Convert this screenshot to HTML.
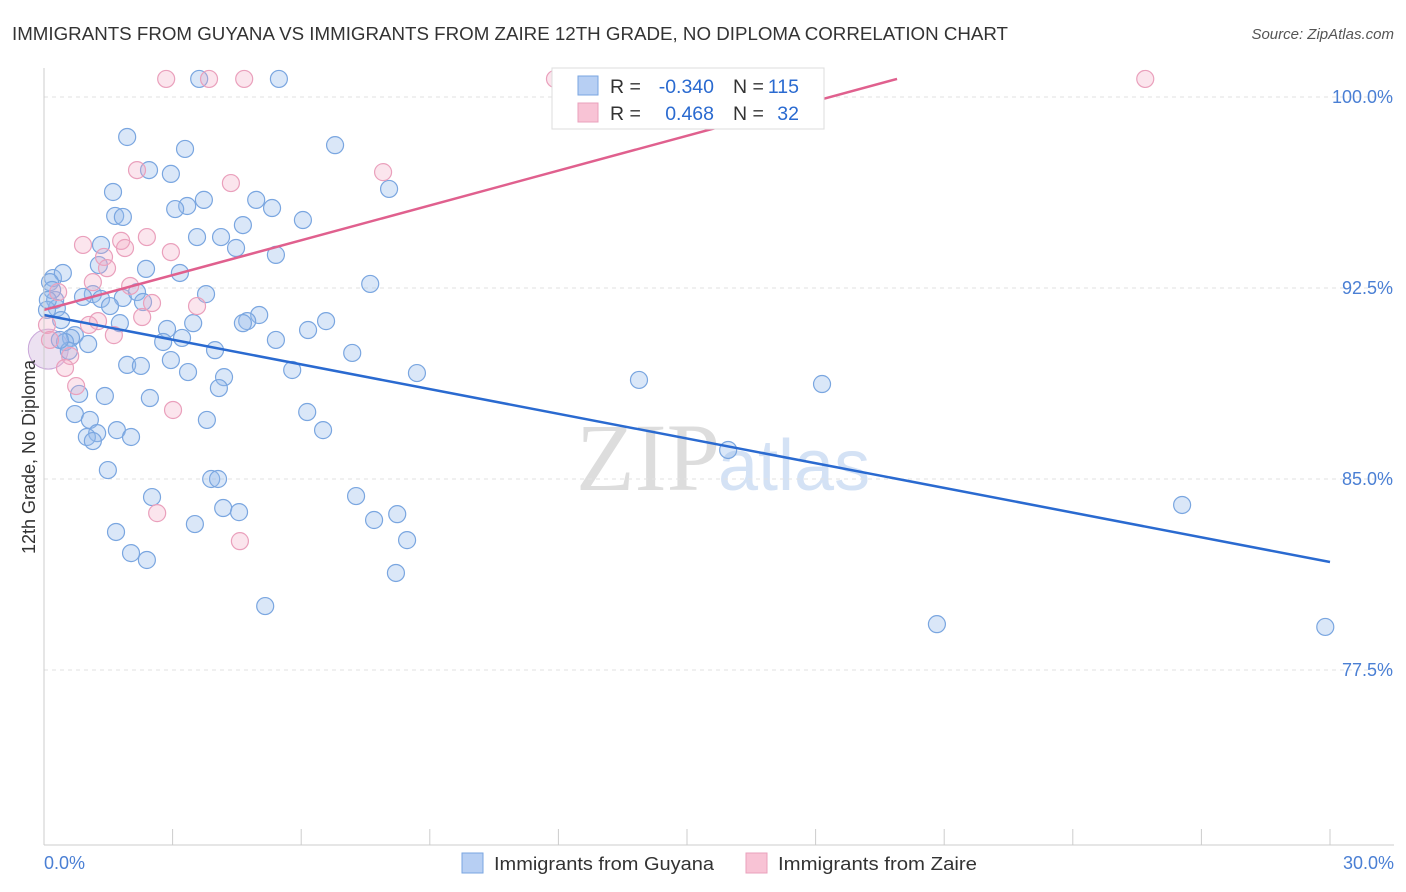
<!DOCTYPE html>
<html><head><meta charset="utf-8"><style>
body{margin:0;background:#fff;font-family:"Liberation Sans",sans-serif;}
svg{display:block}
</style></head><body>
<svg id="chart" width="1406" height="892">
<text x="12" y="40" font-size="18" fill="#333" textLength="996" lengthAdjust="spacingAndGlyphs">IMMIGRANTS FROM GUYANA VS IMMIGRANTS FROM ZAIRE 12TH GRADE, NO DIPLOMA CORRELATION CHART</text>
<text x="1394" y="39" font-size="15" fill="#555" text-anchor="end" font-style="italic">Source: ZipAtlas.com</text>
<text x="720" y="490" font-size="96" fill="#ddd" text-anchor="end" font-family="Liberation Serif">ZIP</text>
<text x="718" y="490" font-size="72" fill="#d4e2f5">atlas</text>
<g id="grid"></g>
<g id="pts"></g>
<g id="lines"></g>
<line x1="44" y1="68" x2="44" y2="845" stroke="#ccc"/>
<line x1="44" y1="845" x2="1394" y2="845" stroke="#ccc"/>
<text transform="translate(35,457) rotate(-90)" font-size="18" fill="#333" text-anchor="middle">12th Grade, No Diploma</text>
<text x="44" y="869" font-size="18" fill="#4a7fd4">0.0%</text>
<text x="1394" y="869" font-size="18" fill="#4a7fd4" text-anchor="end">30.0%</text>
<g>
<rect x="552" y="68" width="272" height="61" fill="#fff" stroke="#ddd"/>
<rect x="578" y="76" width="20" height="19" fill="#b7cff3" stroke="#7aa6e0"/>
<rect x="578" y="103" width="20" height="19" fill="#f8c3d5" stroke="#eaa0bc"/>
<g font-size="19.5">
<text x="610" y="93" fill="#333">R =</text>
<text x="714" y="93" fill="#2a6ad0" text-anchor="end">-0.340</text>
<text x="733" y="93" fill="#333">N =</text>
<text x="799" y="93" fill="#2a6ad0" text-anchor="end">115</text>
<text x="610" y="120" fill="#333">R =</text>
<text x="714" y="120" fill="#2a6ad0" text-anchor="end">0.468</text>
<text x="733" y="120" fill="#333">N =</text>
<text x="799" y="120" fill="#2a6ad0" text-anchor="end">32</text>
</g>
</g>
<g>
<rect x="462" y="853" width="21" height="20" fill="#b7cff3" stroke="#7aa6e0"/>
<text x="494" y="870" font-size="18" fill="#333" textLength="220" lengthAdjust="spacingAndGlyphs">Immigrants from Guyana</text>
<rect x="746" y="853" width="21" height="20" fill="#f8c3d5" stroke="#eaa0bc"/>
<text x="778" y="870" font-size="18" fill="#333" textLength="199" lengthAdjust="spacingAndGlyphs">Immigrants from Zaire</text>
</g>
</svg>
<script>
const yTicks=[100,92.5,85,77.5];
const xTickVals=[0,3,6,9,12,15,18,21,24,27,30];
const blueX=[3.62,5.48,1.94,6.79,3.29,2.45,2.96,8.05,1.61,4.95,3.73,3.34,3.06,1.66,1.84,5.32,6.04,4.64,3.57,4.13,1.33,4.48,5.41,1.28,2.38,3.17,0.21,0.44,7.61,3.78,1.14,0.91,1.84,1.33,2.17,1.54,2.31,0.26,0.30,0.07,0.40,5.02,4.74,4.64,6.58,1.77,3.48,0.72,0.63,1.03,0.49,0.58,6.16,2.87,3.22,5.41,2.78,3.99,7.19,2.96,1.94,2.26,3.36,5.79,8.70,4.20,4.08,13.88,18.15,1.42,0.82,2.47,6.14,0.72,1.07,3.80,6.51,1.24,1.00,1.70,2.03,1.14,15.96,1.49,3.90,4.06,2.52,7.28,4.18,4.55,7.70,8.24,3.52,1.68,8.47,2.03,2.40,8.21,5.16,26.55,20.83,29.89,0.14,0.19,0.09,0.37];
const blueY=[100.71,100.71,98.43,98.11,97.96,97.13,96.98,96.39,96.27,95.96,95.96,95.72,95.60,95.33,95.29,95.64,95.17,94.97,94.50,94.50,94.19,94.07,93.80,93.40,93.25,93.09,92.89,93.09,92.66,92.26,92.26,92.15,92.11,92.07,92.34,91.79,91.95,92.03,91.71,91.64,91.24,91.44,91.20,91.12,91.20,91.12,91.12,90.65,90.54,90.30,90.38,90.03,90.85,90.89,90.54,90.46,90.38,90.06,89.95,89.67,89.48,89.44,89.20,89.28,89.16,89.00,88.57,88.89,88.73,88.26,88.34,88.18,87.63,87.55,87.32,87.32,86.92,86.80,86.65,86.92,86.65,86.49,86.14,85.35,85.00,85.00,84.29,84.33,83.86,83.70,83.39,83.62,83.23,82.92,82.60,82.09,81.82,81.31,80.01,83.98,79.30,79.19,92.73,92.42,92.03,90.46];
const pinkX=[2.85,3.85,4.67,11.92,25.69,2.17,4.36,7.91,2.40,1.80,0.91,2.96,1.89,1.40,1.47,1.14,0.33,2.01,2.52,3.57,2.29,1.26,1.05,1.63,0.07,0.14,0.61,0.49,0.75,3.01,2.64,4.57];
const pinkY=[100.71,100.71,100.71,100.71,100.71,97.13,96.62,97.05,94.50,94.35,94.19,93.91,94.07,93.72,93.28,92.73,92.34,92.58,91.91,91.79,91.36,91.20,91.05,90.65,91.05,90.46,89.83,89.36,88.65,87.71,83.66,82.56];
const blueTrend=[91.44,81.74];
const pinkTrend=[91.64,100.71,19.9];
const sx=v=>44+v/30*1286;
const sy=v=>97+(100-v)/7.5*191;
const NS='http://www.w3.org/2000/svg';
function mk(t,a,p){const e=document.createElementNS(NS,t);for(const k in a)e.setAttribute(k,a[k]);p.appendChild(e);return e;}
const grid=document.getElementById('grid');
yTicks.forEach(v=>{
 const l=mk('line',{x1:44,x2:1394,y1:sy(v),y2:sy(v),stroke:'#e2e2e2','stroke-dasharray':'4,4'},grid);
 
 
 const t=mk('text',{x:1393,y:sy(v)+6,'font-size':18,fill:'#4a7fd4','text-anchor':'end'},grid);
 t.textContent=v.toFixed(1)+'%';
 
 
});
xTickVals.forEach(v=>{
 const l=mk('line',{x1:sx(v),x2:sx(v),y1:829,y2:845,stroke:'#ccc'},grid);
 
 
});
const pts=document.getElementById('pts');
const big=mk('circle',{cx:sx(0.1),cy:sy(90.1),r:20,fill:'rgba(200,170,215,0.35)',stroke:'#c9a7d9'},pts);


blueX.forEach((x,i)=>{
 const c=mk('circle',{cx:sx(x),cy:sy(blueY[i]),r:8.5,fill:'rgba(150,185,235,0.35)',stroke:'#7aa6e0','stroke-width':1.2},pts);
 
 
});
pinkX.forEach((x,i)=>{
 const c=mk('circle',{cx:sx(x),cy:sy(pinkY[i]),r:8.5,fill:'rgba(242,170,195,0.3)',stroke:'#eaa0bc','stroke-width':1.2},pts);
 
 
});
const lines=document.getElementById('lines');
const bl=mk('line',{x1:sx(0),y1:sy(blueTrend[0]),x2:sx(30),y2:sy(blueTrend[1]),stroke:'#2a6ad0','stroke-width':2.5},lines);


const pl=mk('line',{x1:sx(0),y1:sy(pinkTrend[0]),x2:sx(pinkTrend[2]),y2:sy(pinkTrend[1]),stroke:'#e0608e','stroke-width':2.5},lines);


</script>
</body></html>
